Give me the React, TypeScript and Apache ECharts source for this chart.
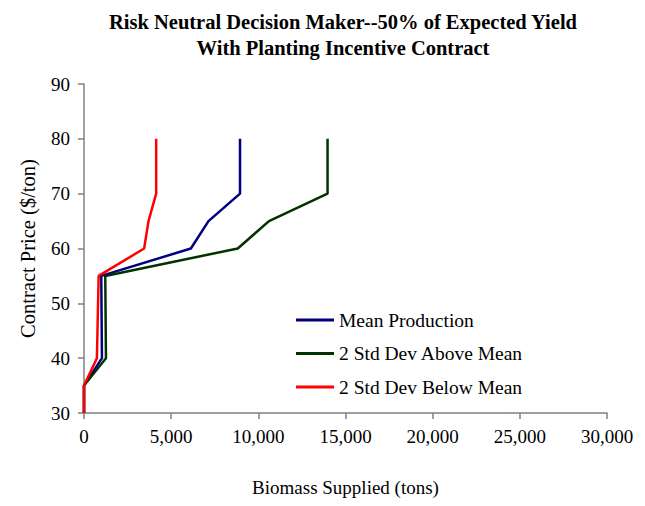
import React, { useEffect, useRef } from "react";
import * as echarts from "echarts";

// Contract price levels ($/ton) at which supply was evaluated
const prices = [30, 35, 40, 55, 60, 65, 70, 80];

// Biomass supplied (tons) at each price level
const meanProduction = [0, 0, 1030, 990, 6130, 7140, 8950, 8950];
const aboveMean = [0, 0, 1260, 1220, 8820, 10610, 13970, 13970];
const belowMean = [0, 0, 740, 840, 3450, 3700, 4140, 4140];

const seriesNames = ["Mean Production", "2 Std Dev Above Mean", "2 Std Dev Below Mean"];
const seriesColors = ["#000080", "#003300", "#FF0000"];

const xTicks = [0, 5000, 10000, 15000, 20000, 25000, 30000];
const yTicks = [30, 40, 50, 60, 70, 80, 90];

const FONT = "'Liberation Serif', 'Times New Roman', serif";

function pairs(xs: number[]): [number, number][] {
  return xs.map((x, i) => [x, prices[i]]);
}

export default function App() {
  const ref = useRef<HTMLDivElement>(null);

  useEffect(() => {
    if (!ref.current) return;
    const chart = echarts.init(ref.current, undefined, { renderer: "svg" });
    const values = [meanProduction, aboveMean, belowMean];

    chart.setOption({
      animation: false,
      backgroundColor: "#ffffff",
      title: {
        text: "Risk Neutral Decision Maker--50% of Expected Yield\nWith Planting Incentive Contract",
        left: 338,
        top: 4,
        textAlign: "center",
        textStyle: {
          fontFamily: FONT,
          fontWeight: "bold",
          fontSize: 20.5,
          lineHeight: 26,
          color: "#000",
        },
      },
      legend: {
        orient: "vertical",
        left: 296,
        top: 310,
        itemWidth: 38,
        itemHeight: 3,
        itemGap: 13.5,
        icon: "rect",
        padding: 0,
        textStyle: { fontFamily: FONT, fontSize: 19.5, lineHeight: 20, color: "#000" },
        data: seriesNames,
      },
      grid: { left: 84, right: 38, top: 84, bottom: 93, containLabel: false },
      xAxis: {
        type: "value",
        min: xTicks[0],
        max: xTicks[xTicks.length - 1],
        interval: xTicks[1] - xTicks[0],
        name: "Biomass Supplied (tons)",
        nameLocation: "middle",
        nameGap: 65,
        nameTextStyle: { fontFamily: FONT, fontSize: 19, color: "#000" },
        axisLine: { lineStyle: { color: "#808080", width: 1.5 } },
        axisTick: { show: true, length: 6, inside: false, lineStyle: { color: "#808080", width: 1.5 } },
        axisLabel: {
          fontFamily: FONT,
          fontSize: 19,
          color: "#000",
          margin: 14,
          formatter: (v: number) => v.toLocaleString("en-US"),
        },
        splitLine: { show: false },
      },
      yAxis: {
        type: "value",
        min: yTicks[0],
        max: yTicks[yTicks.length - 1],
        interval: yTicks[1] - yTicks[0],
        name: "Contract Price ($/ton)",
        nameLocation: "middle",
        nameGap: 46,
        nameRotate: 90,
        nameTextStyle: { fontFamily: FONT, fontSize: 20.5, color: "#000" },
        axisLine: { show: true, lineStyle: { color: "#808080", width: 1.5 } },
        axisTick: { show: true, length: 6, inside: false, lineStyle: { color: "#808080", width: 1.5 } },
        axisLabel: { fontFamily: FONT, fontSize: 19, color: "#000", margin: 14 },
        splitLine: { show: false },
      },
      series: seriesNames.map((name, i) => ({
        name,
        type: "line",
        data: pairs(values[i]),
        showSymbol: false,
        symbol: "none",
        color: seriesColors[i],
        lineStyle: { color: seriesColors[i], width: 2.5 },
        z: 2 + i,
      })),
    });

    return () => chart.dispose();
  }, []);

  return <div ref={ref} style={{ width: 645, height: 506, margin: -8 }} />;
}
